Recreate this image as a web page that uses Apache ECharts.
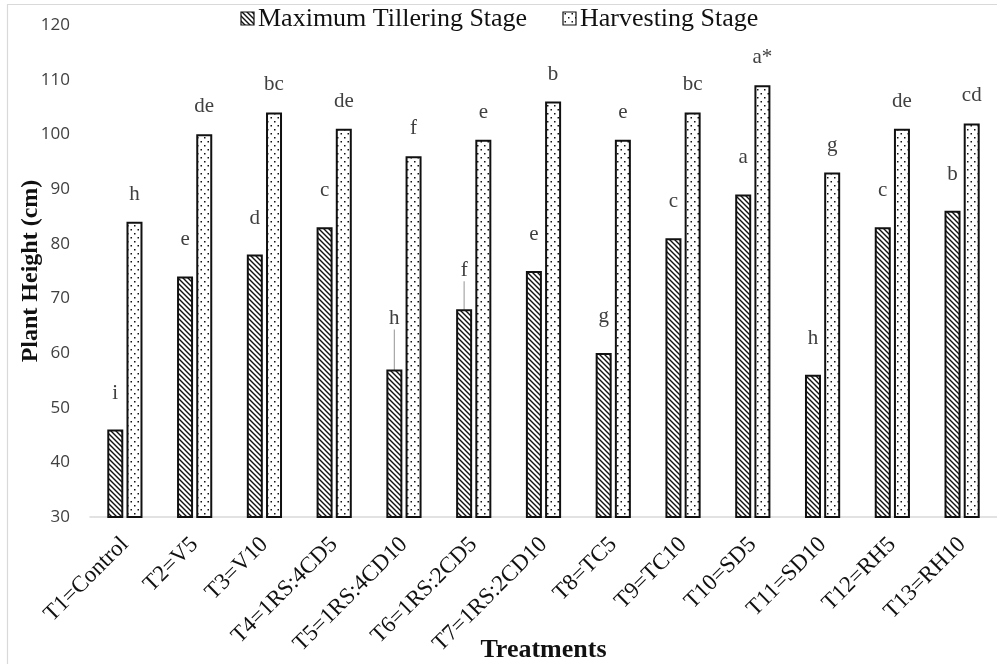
<!DOCTYPE html>
<html>
<head>
<meta charset="utf-8">
<script src="https://cdn.jsdelivr.net/npm/echarts@6/dist/echarts.min.js"></script>
<style>
  html, body { margin: 0; padding: 0; background: #fff; }
  #chart { width: 997px; height: 664px; }
</style>
</head>
<body>
<div id="chart"></div>
<script>
// Treatments on the x axis
const categories = ['T1=Control', 'T2=V5', 'T3=V10', 'T4=1RS:4CD5', 'T5=1RS:4CD10', 'T6=1RS:2CD5',
  'T7=1RS:2CD10', 'T8=TC5', 'T9=TC10', 'T10=SD5', 'T11=SD10', 'T12=RH5', 'T13=RH10'];

// Plant height (cm) at each stage
const tilleringValues = [46, 74, 78, 83, 57, 68, 75, 60, 81, 89, 56, 83, 86];
const harvestingValues = [84, 100, 104, 101, 96, 99, 106, 99, 104, 109, 93, 101, 102];

// Significance letters above the bars
const tilleringLetters = ['i', 'e', 'd', 'c', 'h', 'f', 'e', 'g', 'c', 'a', 'h', 'c', 'b'];
const harvestingLetters = ['h', 'de', 'bc', 'de', 'f', 'e', 'b', 'e', 'bc', 'a*', 'g', 'de', 'cd'];

const seriesNames = ['Maximum Tillering Stage', 'Harvesting Stage'];
const yTicks = { min: 30, max: 120, step: 10 };

const SERIF = 'Liberation Serif';

// Diagonal hatch fill
function hatchPattern() {
  const c = document.createElement('canvas');
  c.width = 5; c.height = 5;
  const g = c.getContext('2d');
  g.fillStyle = '#fff';
  g.fillRect(0, 0, 5, 5);
  g.strokeStyle = '#111';
  g.lineWidth = 1.4;
  g.beginPath();
  g.moveTo(-1, -1); g.lineTo(6, 6);
  g.moveTo(-1, 4); g.lineTo(1, 6);
  g.moveTo(4, -1); g.lineTo(6, 1);
  g.stroke();
  return c;
}

// Small dotted fill
function dotPattern() {
  const c = document.createElement('canvas');
  c.width = 7; c.height = 8;
  const g = c.getContext('2d');
  g.fillStyle = '#fff';
  g.fillRect(0, 0, 7, 8);
  g.fillStyle = '#111';
  g.fillRect(1, 1, 1.5, 1.5);
  g.fillRect(4.5, 5, 1.5, 1.5);
  return c;
}

const hatchFill = { image: hatchPattern(), repeat: 'repeat' };
const dotFill = { image: dotPattern(), repeat: 'repeat' };
const seriesFills = [hatchFill, dotFill];

const chart = echarts.init(document.getElementById('chart'), null, { renderer: 'canvas' });

function letterLabel(letters, distance) {
  return {
    show: true,
    position: 'top',
    distance: distance,
    formatter: p => letters[p.dataIndex],
    fontFamily: SERIF,
    fontSize: 21,
    color: '#404040'
  };
}

// Two tillering labels sit a little higher, joined to their bars by a short leader
const leaderShift = { 4: -14, 5: -2 };
const tilleringData = tilleringValues.map((v, i) => (
  i in leaderShift ? { value: v, labelLine: { show: true } } : v
));

// Legend drawn as a small graphic group: swatch + serif caption per series
const legendSlots = [241, 563];
const legendGraphic = seriesNames.flatMap((name, i) => [
  {
    type: 'rect',
    shape: { x: legendSlots[i], y: 12, width: 13, height: 13 },
    style: { fill: seriesFills[i], stroke: '#111', lineWidth: 1.2 },
    silent: true
  },
  {
    type: 'text',
    x: legendSlots[i] + 17,
    y: 19,
    style: {
      text: name,
      fontFamily: SERIF,
      fontSize: 26,
      fill: '#111',
      verticalAlign: 'middle',
      align: 'left'
    },
    silent: true
  }
]);

const option = {
  backgroundColor: '#fff',
  animation: false,
  textStyle: { fontFamily: SERIF },
  graphic: [{
    type: 'polyline',
    shape: { points: [[7.5, 700], [7.5, 4.5], [1000, 4.5]] },
    style: { stroke: '#d9d9d9', lineWidth: 1.2, fill: null },
    silent: true
  }].concat(legendGraphic),
  grid: { left: 90, right: 0, top: 25, bottom: 147, containLabel: false, outerBoundsMode: 'none' },
  xAxis: {
    type: 'category',
    data: categories,
    axisLine: { show: true, lineStyle: { color: '#d9d9d9', width: 1.5 } },
    axisTick: { show: false },
    axisLabel: {
      rotate: 45,
      margin: 24,
      interval: 0,
      fontFamily: SERIF,
      fontSize: 23,
      color: '#111'
    },
    name: 'Treatments',
    nameLocation: 'middle',
    nameGap: 120,
    nameMoveOverlap: false,
    nameTextStyle: { fontFamily: SERIF, fontSize: 26, fontWeight: 'bold', color: '#111' }
  },
  yAxis: {
    type: 'value',
    min: yTicks.min,
    max: yTicks.max,
    interval: yTicks.step,
    splitLine: { show: false },
    axisLine: { show: false },
    axisTick: { show: false },
    axisLabel: {
      margin: 20,
      fontFamily: 'Open Sans',
      fontSize: 17,
      color: '#404040'
    },
    name: 'Plant Height (cm)',
    nameLocation: 'middle',
    nameGap: 47,
    nameMoveOverlap: false,
    nameTextStyle: { fontFamily: SERIF, fontSize: 24, fontWeight: 'bold', color: '#111' }
  },
  series: [
    {
      name: seriesNames[0],
      type: 'bar',
      data: tilleringData,
      barWidth: 16,
      barGap: '20%',
      itemStyle: {
        color: hatchFill,
        borderColor: '#111',
        borderWidth: 2
      },
      label: letterLabel(tilleringLetters, 26),
      labelLine: { show: false, lineStyle: { color: '#a6a6a6', width: 1.2 } },
      labelLayout: p => (p.dataIndex in leaderShift ? { dy: leaderShift[p.dataIndex] } : {})
    },
    {
      name: seriesNames[1],
      type: 'bar',
      data: harvestingValues,
      barWidth: 16,
      barGap: '20%',
      itemStyle: {
        color: dotFill,
        borderColor: '#111',
        borderWidth: 2
      },
      label: letterLabel(harvestingLetters, 17)
    }
  ]
};

chart.setOption(option);
</script>
</body>
</html>
